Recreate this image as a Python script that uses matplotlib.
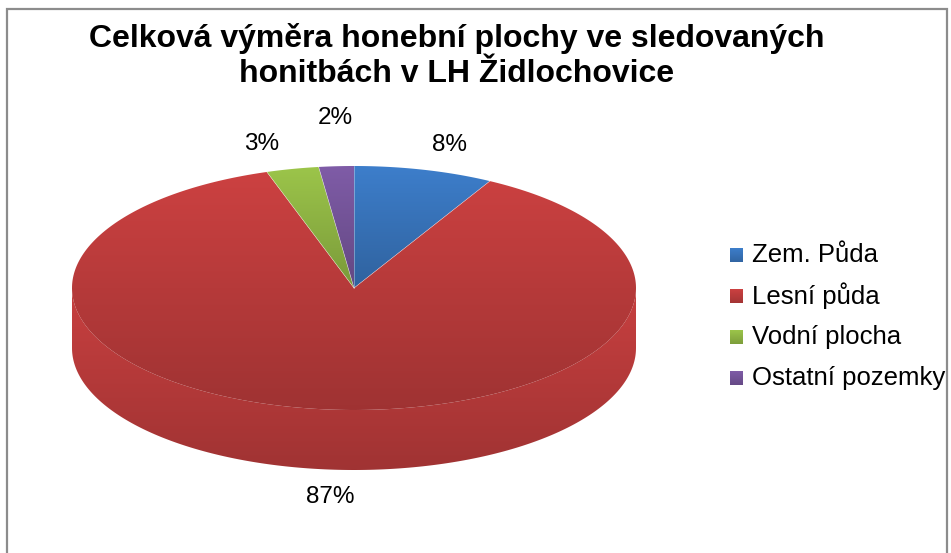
import numpy as np
import matplotlib
matplotlib.use("Agg")
import matplotlib.pyplot as plt
import matplotlib.patches as patches
from matplotlib.colors import to_rgb

plt.rcParams['font.family'] = ['Liberation Sans', 'DejaVu Sans']

# land use shares in the hunting grounds (percent)
categories = ["Zem. Půda", "Lesní půda", "Vodní plocha", "Ostatní pozemky"]
shares = [8, 87, 3, 2]
colors = ["#3D7ECB", "#CC4141", "#9CC54A", "#7F5CA7"]
title = "Celková výměra honební plochy ve sledovaných\nhonitbách v LH Židlochovice"

W, H = 951, 553
fig = plt.figure(figsize=(W / 100, H / 100), dpi=100)
ax = fig.add_axes([0, 0, 1, 1])
ax.set_xlim(0, W)
ax.set_ylim(H, 0)
ax.axis("off")

# pie geometry in pixels
cx, cy = 354, 288
rx, ry = 282, 122
depth = 60


def pt(t, dy=0.0):
    """point on the ellipse, t in degrees clockwise from 12 o'clock"""
    r = np.radians(t)
    return cx + rx * np.sin(r), cy - ry * np.cos(r) + dy


def shade(color, k):
    return tuple(c * k for c in to_rgb(color))


def gradient_fill(verts, color, dark=0.78, zorder=2):
    """fill polygon with a vertical light-to-dark gradient"""
    verts = np.asarray(verts)
    poly = patches.Polygon(verts, closed=True, facecolor="none",
                           edgecolor="none")
    ax.add_patch(poly)
    y0, y1 = verts[:, 1].min(), verts[:, 1].max()
    x0, x1 = verts[:, 0].min(), verts[:, 0].max()
    top = np.array(to_rgb(color))
    bot = np.array(shade(color, dark))
    f = np.linspace(0, 1, 256)[:, None]
    img = (top[None, :] * (1 - f) + bot[None, :] * f)[:, None, :]
    im = ax.imshow(img, extent=(x0, x1, y1, y0), aspect="auto",
                   interpolation="bilinear", zorder=zorder)
    im.set_clip_path(poly)


total = float(sum(shares))
bounds = np.concatenate([[0], np.cumsum(shares) / total * 360])

# side wall: only the front half (90..270 deg) is visible
for i, color in enumerate(colors):
    a, b = max(bounds[i], 90), min(bounds[i + 1], 270)
    if b <= a:
        continue
    ts = np.linspace(a, b, 200)
    upper = [pt(t) for t in ts]
    lower = [pt(t, depth) for t in ts[::-1]]
    gradient_fill(upper + lower, shade(color, 0.98), dark=0.8, zorder=1)

# top surfaces
for i, color in enumerate(colors):
    ts = np.linspace(bounds[i], bounds[i + 1], 300)
    verts = [(cx, cy)] + [pt(t) for t in ts]
    gradient_fill(verts, color, dark=0.78, zorder=2)
    ax.plot([cx, pt(bounds[i])[0]], [cy, pt(bounds[i])[1]],
            color="white", lw=0.4, alpha=0.6, zorder=3)

# percentage labels outside the slices
label_nudge = [(8, 5), (9, -3), (-15, 5), (3, -18)]
for i, v in enumerate(shares):
    mid = np.radians((bounds[i] + bounds[i + 1]) / 2)
    lx = cx + 1.25 * rx * np.sin(mid)
    ly = cy - 1.25 * ry * np.cos(mid)
    if np.cos(mid) < 0:
        ly += depth
    ax.text(lx + label_nudge[i][0], ly + label_nudge[i][1],
            "%d%%" % round(v / total * 100), ha="center", va="center",
            fontsize=17.5, color="black")

# legend
for i, (name, color) in enumerate(zip(categories, colors)):
    y = 255 + i * 41
    sq = [(730, y - 7), (743, y - 7), (743, y + 7), (730, y + 7)]
    gradient_fill(sq, color, dark=0.8, zorder=2)
    ax.text(752, y, name, ha="left", va="center", fontsize=18.5,
            color="black")

ax.text(457, 56, title, ha="center", va="center", fontsize=23,
        fontweight="bold", linespacing=1.25)

# chart frame
ax.plot([7, 7, 947, 947], [H, 9, 9, H], color="#8C8C8C", lw=1.6,
        solid_joinstyle="miter", zorder=5)

fig.savefig("out.png", dpi=100)
